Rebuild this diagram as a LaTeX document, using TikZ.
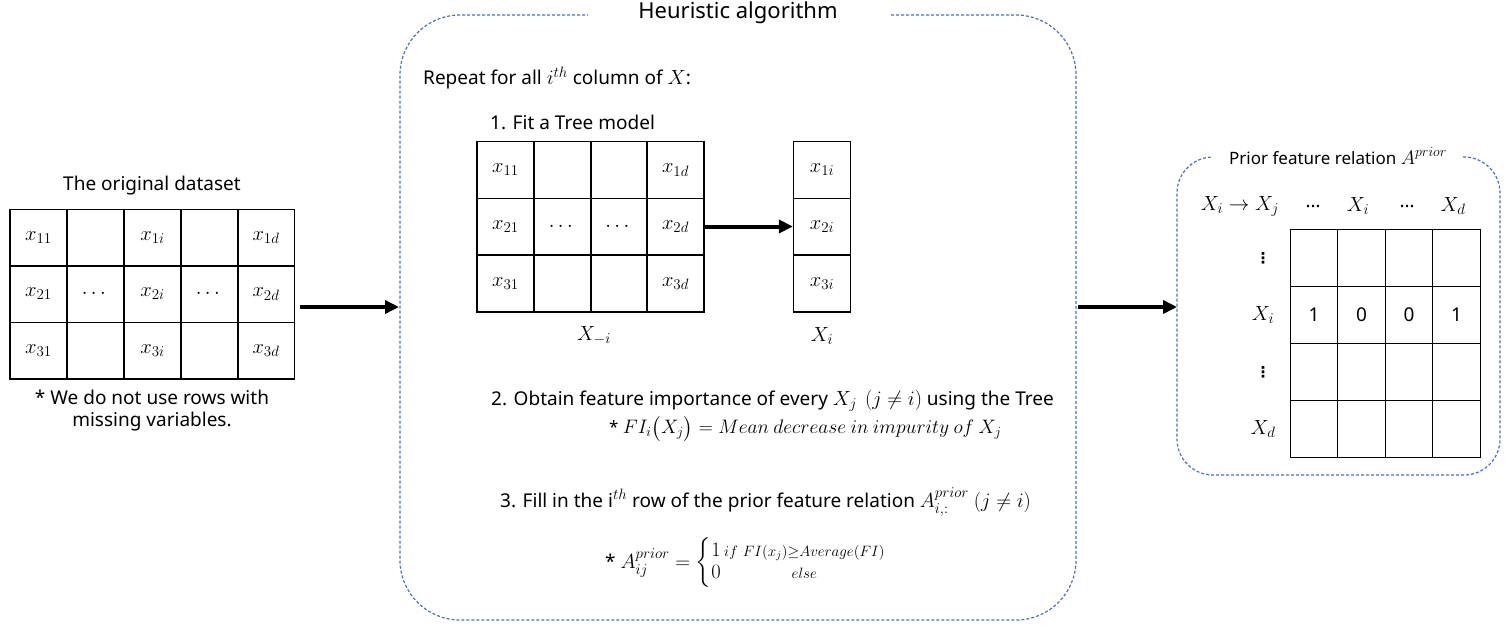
\documentclass[tikz,border=0pt]{standalone}
\usepackage{fix-cm}
\usepackage{fontspec}
\usepackage{amsmath}
\setmainfont{Noto Sans}
\newfontfamily\dejavu{DejaVu Sans}
\DeclareMathSizes{19}{20.5}{15}{11}
\DeclareMathSizes{17}{19.5}{14}{11}
\DeclareMathSizes{22}{24}{17}{13}
\usetikzlibrary{arrows.meta}
\definecolor{dblue}{RGB}{68,114,196}
\tikzset{
 every node/.style={font=\fontsize{19}{22}\selectfont},
 cell/.style={draw, line width=1.3pt, minimum width=57pt, minimum height=56.7pt, inner sep=0pt},
 rcell/.style={cell, minimum width=47.5pt, minimum height=57pt},
 bigarrow/.style={line width=4pt, -{Triangle[length=14pt,width=13pt]}},
 dashbox/.style={draw=dblue, line width=1.2pt, dash pattern=on 3pt off 2pt},
 lbl/.style={anchor=west, inner sep=0pt},
 ttl/.style={inner sep=0pt},
 vdot/.style={inner sep=0pt, font=\dejavu\bfseries\fontsize{15}{18}\selectfont},
}
\begin{document}
\begin{tikzpicture}[x=1pt,y=-1pt]
\useasboundingbox (0,0) rectangle (1512,625);
% ---------- left table ----------
\node[ttl] (ltitle) at (152,186) {The original dataset};
\node[cell] (L11) at (38.5,237.5) {$x_{11}$};
\node[cell] (L12) at (95.5,237.5) {};
\node[cell] (L13) at (152.5,237.5) {$x_{1i}$};
\node[cell] (L14) at (209.5,237.5) {};
\node[cell] (L15) at (266,237.5) {$x_{1d}$};
\node[cell] (L21) at (38.5,294) {$x_{21}$};
\node[cell] (L22) at (95.5,294) {$\cdots$};
\node[cell] (L23) at (152.5,294) {$x_{2i}$};
\node[cell] (L24) at (209.5,294) {$\cdots$};
\node[cell] (L25) at (266,294) {$x_{2d}$};
\node[cell] (L31) at (38.5,350.5) {$x_{31}$};
\node[cell] (L32) at (95.5,350.5) {};
\node[cell] (L33) at (152.5,350.5) {$x_{3i}$};
\node[cell] (L34) at (209.5,350.5) {};
\node[cell] (L35) at (266,350.5) {$x_{3d}$};
\node[ttl, align=center] (lnote) at (152,411) {* We do not use rows with\\missing variables.};
% ---------- arrows between panels ----------
\coordinate (a1s) at (300,307);
\coordinate (a1e) at (399,307);
\coordinate (a2s) at (1078,307);
\coordinate (a2e) at (1177,307);
\draw[bigarrow] (a1s) -- (a1e);
\draw[bigarrow] (a2s) -- (a2e);
% ---------- middle box ----------
\draw[dashbox, rounded corners=60pt] (891,15) -- (1076,15) -- (1076,620) -- (400,620) -- (400,15) -- (588,15);
\node[ttl, font=\fontsize{22}{26}\selectfont] (mtitle) at (738,13) {Heuristic algorithm};
\node[lbl] (rep) at (423,78) {Repeat for all $i^{th}$ column of $X$:};
\node[lbl] (s1) at (490,122) {1. Fit a Tree model};
\node[cell] (M11) at (505.5,170) {$x_{11}$};
\node[cell] (M12) at (562.5,170) {};
\node[cell] (M13) at (619,170) {};
\node[cell] (M14) at (675.5,170) {$x_{1d}$};
\node[cell] (M21) at (505.5,226.5) {$x_{21}$};
\node[cell] (M22) at (562.5,226.5) {$\cdots$};
\node[cell] (M23) at (619,226.5) {$\cdots$};
\node[cell] (M24) at (675.5,226.5) {$x_{2d}$};
\node[cell] (M31) at (505.5,283.5) {$x_{31}$};
\node[cell] (M32) at (562.5,283.5) {};
\node[cell] (M33) at (619,283.5) {};
\node[cell] (M34) at (675.5,283.5) {$x_{3d}$};
\node[cell] (C1) at (822,170) {$x_{1i}$};
\node[cell] (C2) at (822,226.5) {$x_{2i}$};
\node[cell] (C3) at (822,283.5) {$x_{3i}$};
\draw[bigarrow] (M24.east) -- (C2.west);
\node[ttl] (xmi) at (594,336) {$X_{-i}$};
\node[ttl] (xi) at (822,336) {$X_i$};
\node[lbl] (s2) at (491,401) {2. Obtain feature importance of every $X_j$ \,$(j \neq i)$ using the Tree};
\node[lbl, font=\fontsize{17}{20}\selectfont] (s2b) at (609,429) {* $FI_i\big(X_j\big) = Mean\ decrease\ in\ impurity\ of\ X_j$};
\node[lbl] (s3) at (500,502) {3. Fill in the i$^{th}$ row of the prior feature relation $A^{prior}_{i,:}$ $(j \neq i)$};
\node[lbl] (s3b) at (605,563) {* $A^{prior}_{ij} = \left\{\begin{array}{@{}l@{\,}c@{}}1 & {\scriptstyle if\ FI(x_j)\geq Average(FI)}\\ 0 & {\scriptstyle else}\end{array}\right.$};
% ---------- right box ----------
\draw[dashbox, rounded corners=36pt] (1463,157) -- (1500,157) -- (1500,475) -- (1177,475) -- (1177,157) -- (1213,157);
\node[ttl, font=\fontsize{17}{20}\selectfont] (rtitle) at (1338,156) {Prior feature relation $A^{prior}$};
\node[ttl] (h0) at (1240,206) {$X_i \rightarrow X_j$};
\node[ttl] (h1) at (1313,206) {\ldots};
\node[ttl] (h2) at (1358,206) {$X_i$};
\node[ttl] (h3) at (1407,206) {\ldots};
\node[ttl] (h4) at (1453,206) {$X_d$};
\node[vdot] (v1) at (1263,258) {⋮};
\node[ttl] (v2) at (1263,315) {$X_i$};
\node[vdot] (v3) at (1263,372) {⋮};
\node[ttl] (v4) at (1263,429) {$X_d$};
\node[rcell] (R11) at (1314,258) {};
\node[rcell] (R12) at (1361.5,258) {};
\node[rcell] (R13) at (1409,258) {};
\node[rcell] (R14) at (1456.5,258) {};
\node[rcell] (R21) at (1314,315) {1};
\node[rcell] (R22) at (1361.5,315) {0};
\node[rcell] (R23) at (1409,315) {0};
\node[rcell] (R24) at (1456.5,315) {1};
\node[rcell] (R31) at (1314,372) {};
\node[rcell] (R32) at (1361.5,372) {};
\node[rcell] (R33) at (1409,372) {};
\node[rcell] (R34) at (1456.5,372) {};
\node[rcell] (R41) at (1314,429) {};
\node[rcell] (R42) at (1361.5,429) {};
\node[rcell] (R43) at (1409,429) {};
\node[rcell] (R44) at (1456.5,429) {};
\end{tikzpicture}
\end{document}
